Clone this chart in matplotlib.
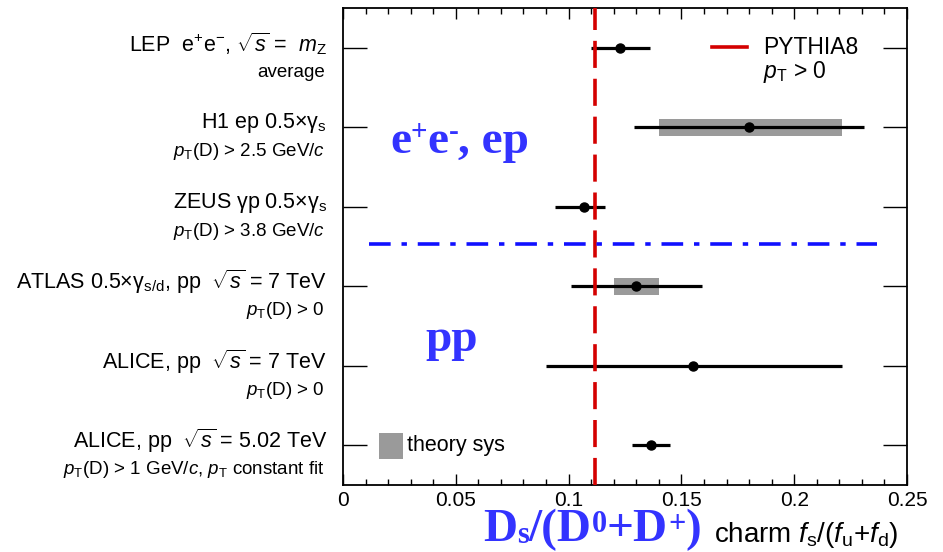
import numpy as np
import matplotlib
matplotlib.use("Agg")
import matplotlib.pyplot as plt
from matplotlib.patches import Rectangle
from matplotlib.ticker import MultipleLocator

plt.rcParams['font.family'] = ['Liberation Sans', 'DejaVu Sans']
plt.rcParams['mathtext.fontset'] = 'custom'
plt.rcParams['mathtext.rm'] = 'Liberation Sans'
plt.rcParams['mathtext.it'] = 'Liberation Sans:italic'
plt.rcParams['mathtext.bf'] = 'Liberation Serif:bold'

# ---- data ----
main_labels = [r"LEP  e$^{+}$e$^{-}$, $\sqrt{s}$ =  $m_{\mathrm{Z}}$",
               r"H1 ep 0.5×γ$_{\mathrm{s}}$",
               r"ZEUS γp 0.5×γ$_{\mathrm{s}}$",
               r"ATLAS 0.5×γ$_{\mathrm{s/d}}$, pp  $\sqrt{s}$ = 7 TeV",
               r"ALICE, pp  $\sqrt{s}$ = 7 TeV",
               r"ALICE, pp  $\sqrt{s}$ = 5.02 TeV"]
sub_labels = ["average",
              r"$p_{\mathrm{T}}$(D) > 2.5 GeV/$c$",
              r"$p_{\mathrm{T}}$(D) > 3.8 GeV/$c$",
              r"$p_{\mathrm{T}}$(D) > 0",
              r"$p_{\mathrm{T}}$(D) > 0",
              r"$p_{\mathrm{T}}$(D) > 1 GeV/$c$, $p_{\mathrm{T}}$ constant fit"]
center = [0.123, 0.180, 0.107, 0.130, 0.155, 0.1365]
err_lo = [0.110, 0.129, 0.094, 0.101, 0.090, 0.128]
err_hi = [0.136, 0.231, 0.116, 0.159, 0.221, 0.145]
sys_lo = [np.nan, 0.140, np.nan, 0.120, np.nan, np.nan]
sys_hi = [np.nan, 0.221, np.nan, 0.140, np.nan, np.nan]
rows = [6, 5, 4, 3, 2, 1]
pythia8 = 0.1115
separator_y = 3.53
separator_x = [0.0115, 0.2365]
x_ticks = [0, 0.05, 0.1, 0.15, 0.2, 0.25]
x_ticklabels = ["0", "0.05", "0.1", "0.15", "0.2", "0.25"]

# big blue labels: (text, level) with level 0 = base, 1 = superscript, -1 = subscript
ee_label = [("e", 0), ("+", 1), ("e", 0), ("-", 1), (", ep", 0)]
ds_label = [("D", 0), ("s", -1), ("/(D", 0), ("0", 1), ("+D", 0), ("+", 1), (")", 0)]

W, H = 943, 552
fig = plt.figure(figsize=(W / 100, H / 100), dpi=100)
def fx(px): return px / W
def fy(py): return 1 - py / H

ax = fig.add_axes([fx(343), fy(485), fx(907) - fx(343), fy(8) - fy(485)])
ax.set_xlim(0, 0.25)
ax.set_ylim(0.5, 6.5)

gray = '#9a9a9a'
for y, c, lo, hi, slo, shi in zip(rows, center, err_lo, err_hi, sys_lo, sys_hi):
    if not np.isnan(slo):
        ax.add_patch(Rectangle((slo, y - 0.105), shi - slo, 0.21,
                               facecolor=gray, edgecolor='none', zorder=2))
    ax.plot([lo, hi], [y, y], color='black', lw=2.3, zorder=3, solid_capstyle='butt')
    ax.plot([c], [y], 'o', color='black', ms=6.5, zorder=4)

ax.axvline(pythia8, color='#d40000', lw=2.6, dashes=(7.5, 3), zorder=3)
ax.plot(separator_x, [separator_y, separator_y], color='#1010ff', lw=2.6,
        dashes=(6, 3, 1.5, 3), zorder=3)

# ticks
ax.set_xticks(x_ticks)
ax.set_xticklabels(x_ticklabels)
ax.xaxis.set_minor_locator(MultipleLocator(0.01))
ax.set_yticks(rows)
ax.set_yticklabels([])
ax.tick_params(axis='x', which='major', direction='in', top=True, bottom=True,
               length=8, width=1.0, labelsize=15, pad=4)
ax.tick_params(axis='x', which='minor', direction='in', top=True, bottom=True,
               length=4.5, width=1.0)
ax.tick_params(axis='y', which='major', direction='in', left=True, right=True,
               length=17, width=1.0)
for s in ax.spines.values():
    s.set_linewidth(1.3)

# left labels
for y, m, s in zip(rows, main_labels, sub_labels):
    ax.text(-0.028, y + 0.05, m, transform=ax.get_yaxis_transform(),
            ha='right', va='center', fontsize=15.5)
    ax.text(-0.032, y - 0.31, s, transform=ax.get_yaxis_transform(),
            ha='right', va='center', fontsize=13.5)

# legend: PYTHIA8
fig.add_artist(plt.Line2D([fx(712), fx(747)], [fy(47), fy(47)], color='#d40000', lw=2.6))
fig.text(fx(763), fy(47), "PYTHIA8", fontsize=16.5, va='center', ha='left')
fig.text(fx(763), fy(72), r"$p_{\mathrm{T}}$ > 0", fontsize=16.5, va='center', ha='left')

# theory sys
fig.add_artist(Rectangle((fx(379), fy(459)), fx(403) - fx(379), fy(433) - fy(459),
                         facecolor=gray, edgecolor='none', transform=fig.transFigure))
fig.text(fx(407), fy(446), "theory sys", fontsize=15.5, va='center', ha='left')

blue = '#3333ff'

def chain(parts, x0, base, big, small, up, down):
    prev = None
    for txt, lvl in parts:
        size = big if lvl == 0 else small
        yb = base - (up if lvl == 1 else (-down if lvl == -1 else 0))
        kw = dict(fontsize=size, family='Liberation Serif', weight='bold', color=blue,
                  va='baseline', ha='left')
        if prev is None:
            prev = fig.text(fx(x0), fy(yb), txt, **kw)
        else:
            prev = fig.add_artist(matplotlib.text.Annotation(
                txt, xy=(1, fy(yb)), xycoords=(prev, 'figure fraction'),
                annotation_clip=False, **kw))

chain(ee_label, 390, 153, 34, 21, 13, 0)
fig.text(fx(425), fy(340), "pp", fontsize=34, va='center', ha='left',
         family='Liberation Serif', weight='bold', color=blue)
chain(ds_label, 483, 541, 34, 22, 9, 2)

fig.text(fx(714), fy(542), r"charm $f_{\mathrm{s}}$/($f_{\mathrm{u}}$+$f_{\mathrm{d}}$)",
         fontsize=20, va='baseline', ha='left')

fig.savefig("out.png", dpi=100)
